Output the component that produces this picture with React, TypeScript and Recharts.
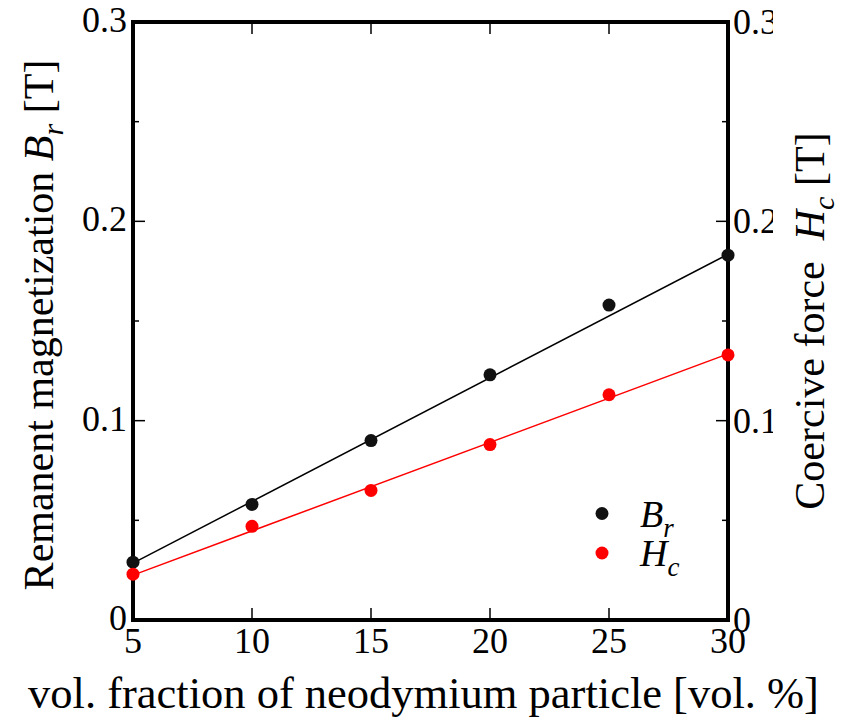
import React from 'react';
import { ComposedChart, Line, XAxis, YAxis, Legend } from 'recharts';

const volFraction = [5, 10, 15, 20, 25, 30];
const remanentBr = [0.029, 0.058, 0.09, 0.123, 0.158, 0.183];
const coerciveHc = [0.023, 0.047, 0.065, 0.088, 0.113, 0.133];
// linear fit, values at the two ends of the range
const fitEnds = [5, 30];
const brFit = [0.0285, 0.1835];
const hcFit = [0.0225, 0.1335];

const xTicks = [5, 10, 15, 20, 25, 30];
const yTicks = [0, 0.05, 0.1, 0.15, 0.2, 0.25, 0.3];

const data = volFraction.map((x, i) => {
  const k = fitEnds.indexOf(x);
  return {
    x,
    br: remanentBr[i],
    hc: coerciveHc[i],
    brFit: k >= 0 ? brFit[k] : undefined,
    hcFit: k >= 0 ? hcFit[k] : undefined,
  };
});

// a single family name: font lists fall back to a sans face here
const FONT = 'Liberation Serif';
const TICK_FS = 36;
const TITLE_FS = 42;
const MAJOR = 12;
const MINOR = 6;

const isMajor = (v: number) => Math.abs(v * 10 - Math.round(v * 10)) < 1e-6;
const fmt = (v: number) => (v === 0 ? '0' : v.toFixed(1));

const LeftTick = (props: any) => {
  const { x, y, payload } = props;
  const v = payload.value;
  const major = isMajor(v);
  return (
    <g>
      <line x1={x} y1={y} x2={x + (major ? MAJOR : MINOR)} y2={y} stroke="#000" strokeWidth={1.5} />
      {major && (
        <text x={x - 6} y={y - 2} textAnchor="end" dominantBaseline="central" fontFamily={FONT} fontSize={TICK_FS} fill="#000">
          {fmt(v)}
        </text>
      )}
    </g>
  );
};

const RightTick = (props: any) => {
  const { x, y, payload, index } = props;
  const v = payload.value;
  const major = isMajor(v);
  const id = `rtick-clip-${index}`;
  return (
    <g>
      <line x1={x} y1={y} x2={x - (major ? MAJOR : MINOR)} y2={y} stroke="#000" strokeWidth={1.5} />
      {major && (
        <>
          <defs>
            <clipPath id={id}>
              <rect x={x} y={y - 30} width={45} height={60} />
            </clipPath>
          </defs>
          <text x={x + 5} y={y} textAnchor="start" dominantBaseline="central" fontFamily={FONT} fontSize={TICK_FS} fill="#000" clipPath={`url(#${id})`}>
            {fmt(v)}
          </text>
        </>
      )}
    </g>
  );
};

const BottomTick = (props: any) => {
  const { x, y, payload } = props;
  return (
    <g>
      <line x1={x} y1={y} x2={x} y2={y - MAJOR} stroke="#000" strokeWidth={1.5} />
      <text x={x} y={y + 21} textAnchor="middle" dominantBaseline="central" fontFamily={FONT} fontSize={TICK_FS} fill="#000">
        {payload.value}
      </text>
    </g>
  );
};

const TopTick = (props: any) => {
  const { x, y } = props;
  return <line x1={x} y1={y} x2={x} y2={y + MAJOR} stroke="#000" strokeWidth={1.5} />;
};

const Sym = ({ main, sub, fs }: { main: string; sub: string; fs: number }) => (
  <>
    <tspan fontStyle="italic">{main}</tspan>
    <tspan fontStyle="italic" fontSize={fs * 0.72} dy={10}>{sub}</tspan>
    <tspan dy={-10}> </tspan>
  </>
);

const LeftTitle = ({ viewBox }: any) => {
  const cx = viewBox.x - 10;
  const cy = viewBox.y + viewBox.height / 2 + 4;
  return (
    <text x={cx} y={cy} transform={`rotate(-90 ${cx} ${cy})`} textAnchor="middle" fontFamily={FONT} fontSize={TITLE_FS} fill="#000">
      Remanent magnetization <Sym main="B" sub="r" fs={TITLE_FS} />[T]
    </text>
  );
};

const RightTitle = ({ viewBox }: any) => {
  const cx = viewBox.x + 96;
  const cy = viewBox.y + viewBox.height / 2;
  return (
    <text x={cx} y={cy} transform={`rotate(-90 ${cx} ${cy})`} textAnchor="middle" fontFamily={FONT} fontSize={TITLE_FS} fill="#000">
      Coercive force{'\u00a0\u00a0'}<Sym main="H" sub="c" fs={TITLE_FS} />[T]
    </text>
  );
};

const BottomTitle = ({ viewBox }: any) => (
  <text x={viewBox.x + viewBox.width / 2 - 7} y={viewBox.y + 88} textAnchor="middle" fontFamily={FONT} fontSize={44.5} fill="#000">
    vol. fraction of neodymium particle [vol. %]
  </text>
);

const legendItems = [
  { main: 'B', sub: 'r', color: '#111111' },
  { main: 'H', sub: 'c', color: '#ff0000' },
];

const LegendBox = () => (
  <svg width={120} height={100} style={{ display: 'block', overflow: 'visible' }}>
    {legendItems.map((it, i) => (
      <g key={it.main}>
        <circle cx={14} cy={25.5 + i * 39.5} r={6.5} fill={it.color} />
        <text x={52} y={39 + i * 39} fontFamily={FONT} fontSize={38} fill="#000">
          <tspan fontStyle="italic">{it.main}</tspan>
          <tspan fontStyle="italic" fontSize={27} dy={10}>{it.sub}</tspan>
        </text>
      </g>
    ))}
  </svg>
);

const axisLine = { stroke: '#000', strokeWidth: 4, strokeLinecap: 'square' as const };

export default function App() {
  return (
    <ComposedChart width={835} height={709} data={data} margin={{ top: 13, right: 55, bottom: 0, left: 55 }}>
      <XAxis
        xAxisId="bottom"
        dataKey="x"
        type="number"
        domain={[5, 30]}
        ticks={xTicks}
        interval={0}
        height={97}
        tickSize={0}
        tickMargin={0}
        tickLine={false}
        axisLine={axisLine}
        tick={<BottomTick />}
        label={<BottomTitle />}
      />
      <XAxis
        xAxisId="top"
        orientation="top"
        dataKey="x"
        type="number"
        domain={[5, 30]}
        ticks={xTicks}
        interval={0}
        height={1}
        tickSize={0}
        tickMargin={0}
        tickLine={false}
        axisLine={axisLine}
        tick={<TopTick />}
      />
      <YAxis
        yAxisId="left"
        type="number"
        domain={[0, 0.3]}
        ticks={yTicks}
        interval={0}
        width={70}
        tickSize={0}
        tickMargin={0}
        tickLine={false}
        axisLine={axisLine}
        tick={<LeftTick />}
        label={<LeftTitle />}
      />
      <YAxis
        yAxisId="right"
        orientation="right"
        type="number"
        domain={[0, 0.3]}
        ticks={yTicks}
        interval={0}
        width={60}
        tickSize={0}
        tickMargin={0}
        tickLine={false}
        axisLine={axisLine}
        tick={<RightTick />}
        label={<RightTitle />}
      />
      <Legend
        layout="vertical"
        align="center"
        verticalAlign="middle"
        content={<LegendBox />}
        wrapperStyle={{ left: 580, top: 480, width: 'auto' }}
      />
      <Line xAxisId="bottom" yAxisId="left" dataKey="brFit" stroke="#000" strokeWidth={1.5} dot={false} connectNulls isAnimationActive={false} legendType="none" />
      <Line xAxisId="bottom" yAxisId="right" dataKey="hcFit" stroke="#ff0000" strokeWidth={1.5} dot={false} connectNulls isAnimationActive={false} legendType="none" />
      <Line xAxisId="bottom" yAxisId="left" dataKey="br" stroke="none" dot={{ r: 6.5, fill: '#111111', stroke: 'none' }} isAnimationActive={false} />
      <Line xAxisId="bottom" yAxisId="right" dataKey="hc" stroke="none" dot={{ r: 6.5, fill: '#ff0000', stroke: 'none' }} isAnimationActive={false} />
    </ComposedChart>
  );
}
